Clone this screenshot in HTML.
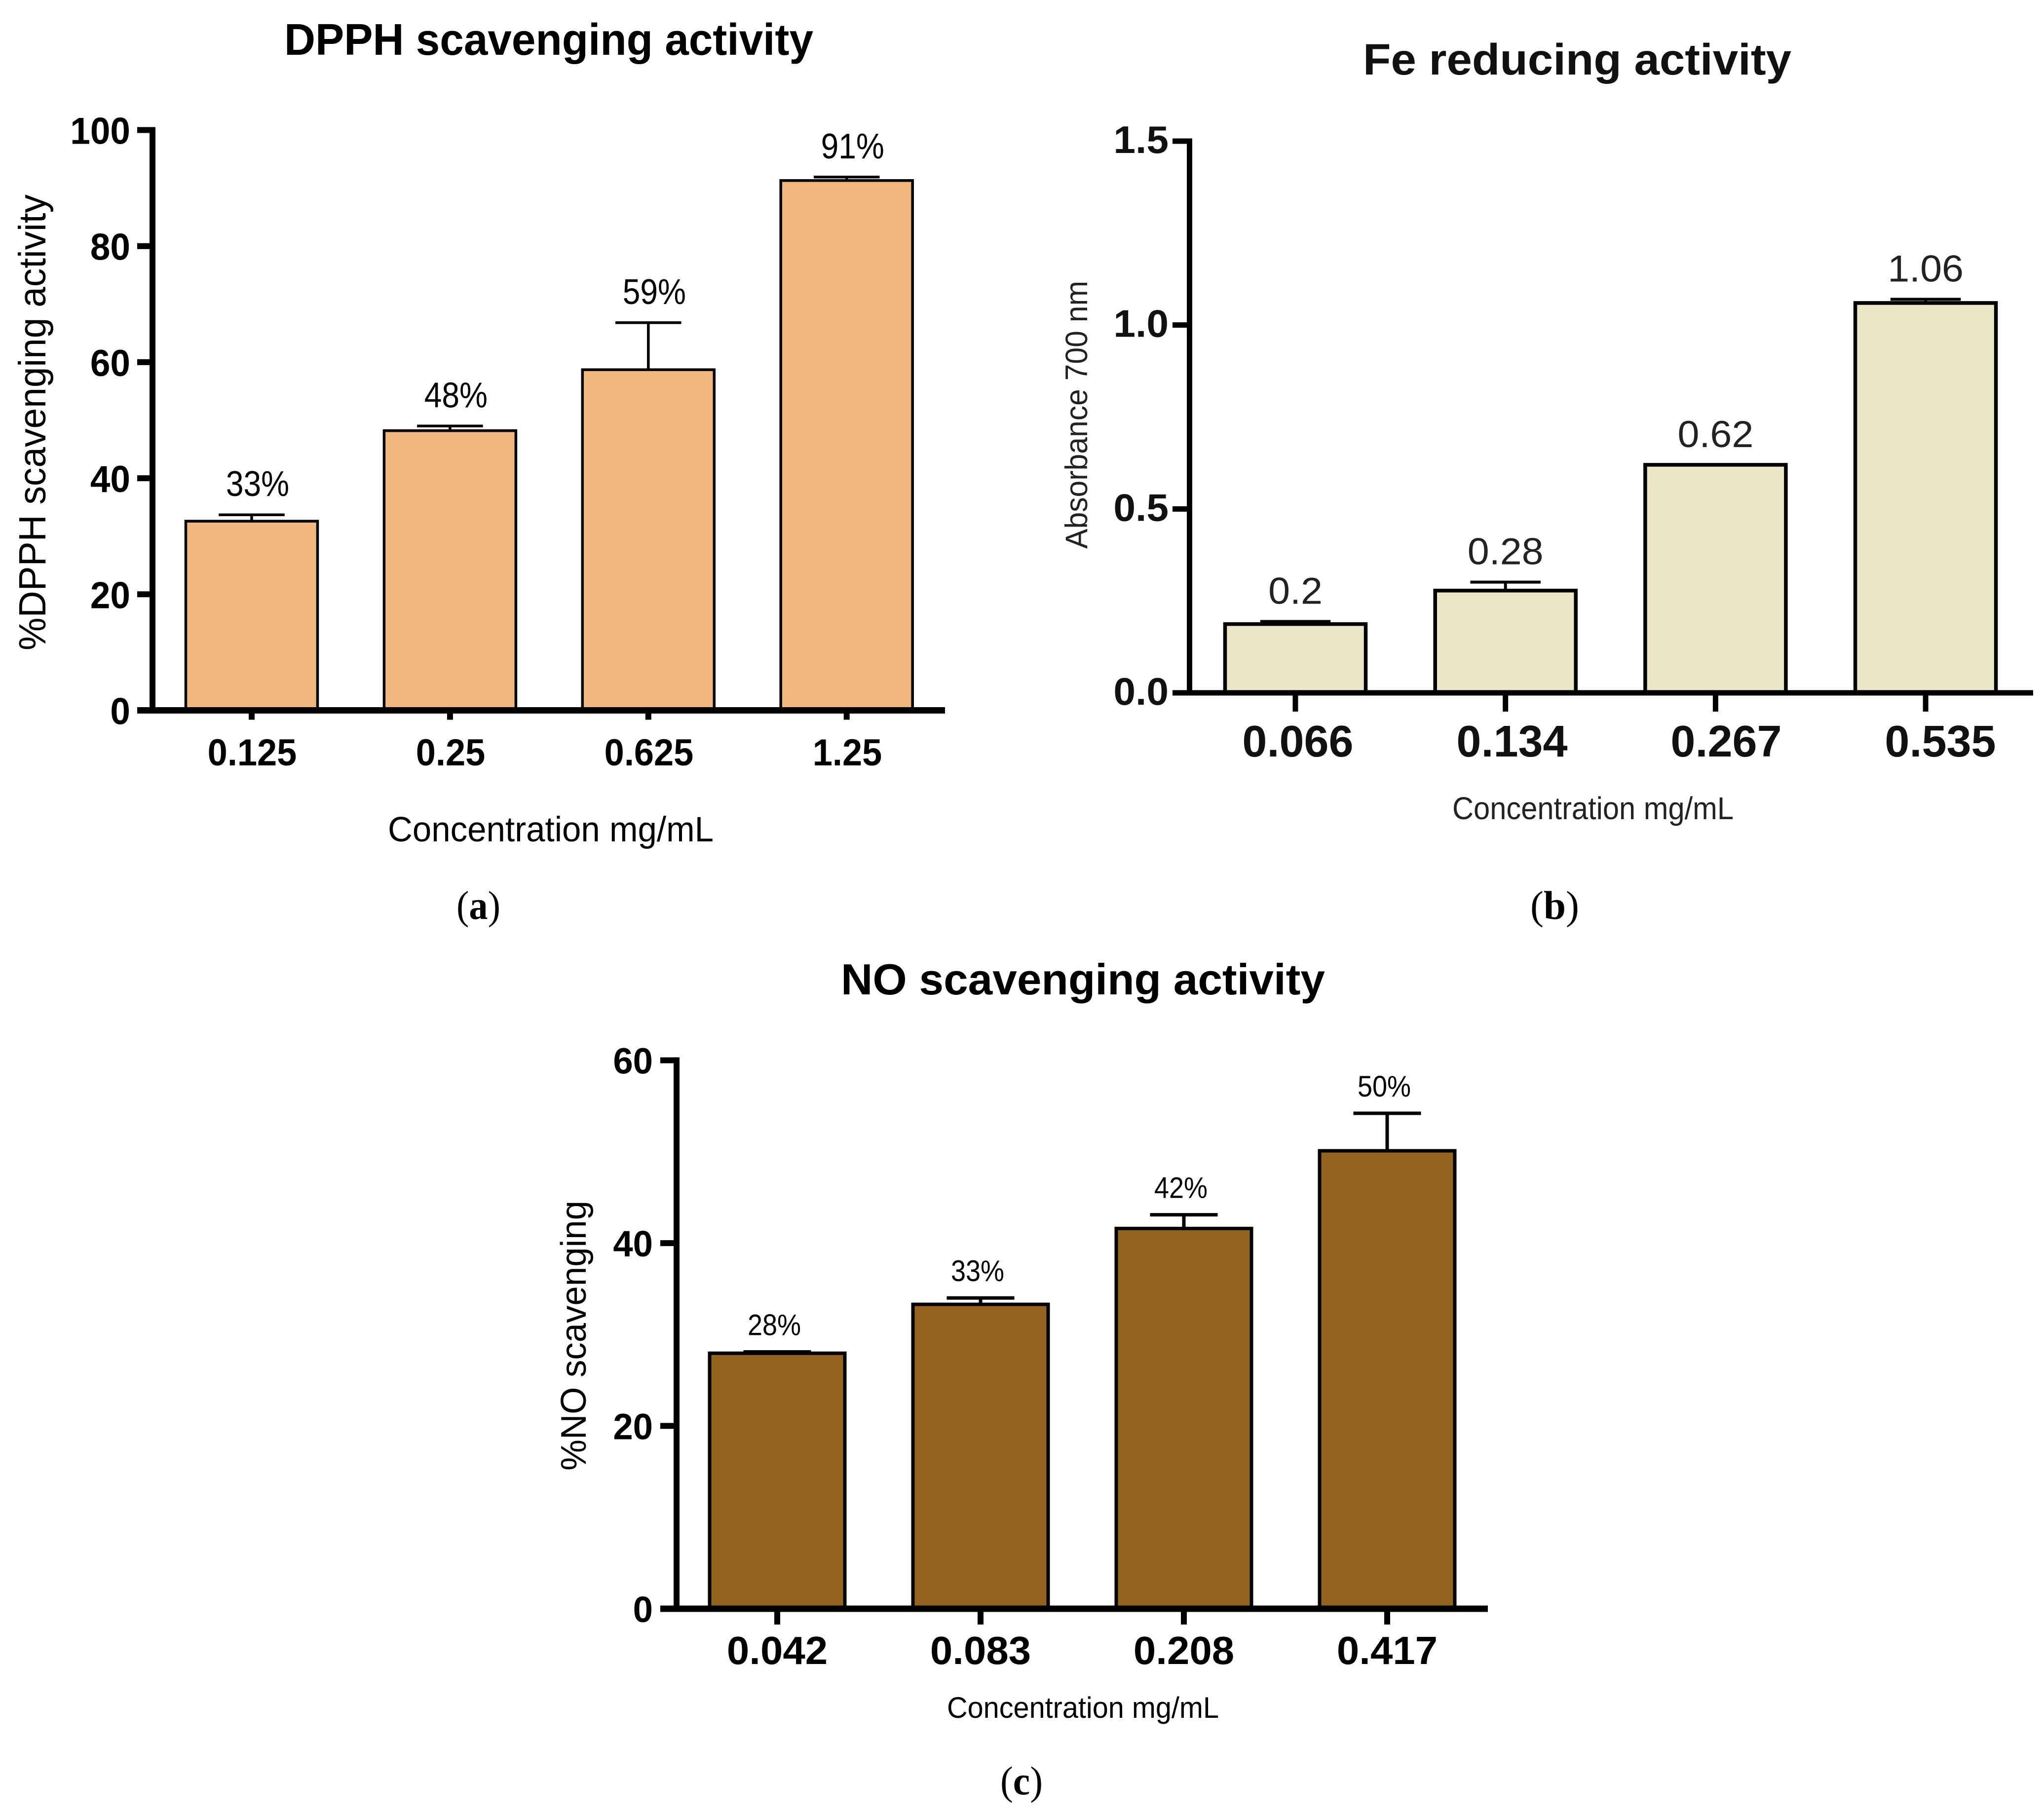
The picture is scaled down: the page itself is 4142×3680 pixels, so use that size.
<!DOCTYPE html>
<html lang="en">
<head>
<meta charset="utf-8">
<title>Antioxidant activity bar charts</title>
<style>
html,body{margin:0;padding:0;background:#fff;width:4142px;height:3680px;overflow:hidden}
svg{display:block}
text{font-family:"Liberation Sans",Arial,sans-serif;fill:#000}
.title{font-weight:700}
.cap{font-family:"Liberation Serif","Times New Roman",serif;font-size:82px}
.cap tspan{font-weight:700}
</style>
</head>
<body>
<svg id="figure" xmlns="http://www.w3.org/2000/svg" width="4142" height="3680" viewBox="0 0 4142 3680">
  <rect x="0" y="0" width="4142" height="3680" fill="#ffffff"/>

  <g id="panel-a">
    <text class="title" x="576" y="111" font-size="90" textLength="1072" lengthAdjust="spacingAndGlyphs">DPPH scavenging activity</text>
    <text x="92" y="1318" font-size="77" textLength="924" lengthAdjust="spacingAndGlyphs" transform="rotate(-90 92 1318)">%DPPH scavenging activity</text>
    <text x="786" y="1705" font-size="71" textLength="660" lengthAdjust="spacingAndGlyphs">Concentration mg/mL</text>
    <text class="cap" x="925" y="1862" textLength="89" lengthAdjust="spacingAndGlyphs">(<tspan>a</tspan>)</text>
  </g>

  <g id="panel-b">
    <text class="title" x="2762" y="151" font-size="89" textLength="868" lengthAdjust="spacingAndGlyphs" style="fill:#111">Fe reducing activity</text>
    <text x="2203" y="1112" font-size="63" style="fill:#222" textLength="543" lengthAdjust="spacingAndGlyphs" transform="rotate(-90 2203 1112)">Absorbance 700 nm</text>
    <text x="2943" y="1660" font-size="64" style="fill:#222" textLength="570" lengthAdjust="spacingAndGlyphs">Concentration mg/mL</text>
    <text class="cap" x="3101" y="1862" textLength="99" lengthAdjust="spacingAndGlyphs">(<tspan>b</tspan>)</text>
  </g>

  <g id="panel-c">
    <text class="title" x="1704" y="2015" font-size="88" textLength="981" lengthAdjust="spacingAndGlyphs">NO scavenging activity</text>
    <text x="1187" y="2980" font-size="72" textLength="547" lengthAdjust="spacingAndGlyphs" transform="rotate(-90 1187 2980)">%NO scavenging</text>
    <text x="1919" y="3481" font-size="60" textLength="551" lengthAdjust="spacingAndGlyphs">Concentration mg/mL</text>
    <text class="cap" x="2027" y="3636" textLength="86" lengthAdjust="spacingAndGlyphs">(<tspan>c</tspan>)</text>
  </g>
</svg>

<script>
// Panel (a) data
const dpphCategories = ['0.125', '0.25', '0.625', '1.25'];
const dpphValues = [32.6, 48.2, 58.7, 91.3];
const dpphErrorTops = [33.7, 49.0, 66.8, 91.9];
const dpphValueLabels = ['33%', '48%', '59%', '91%'];
const dpphTicks = ['0', '20', '40', '60', '80', '100'];

// Panel (b) data
const feCategories = ['0.066', '0.134', '0.267', '0.535'];
const feValues = [0.187, 0.278, 0.62, 1.06];
const feErrorTops = [0.194, 0.301, 0.62, 1.07];
const feValueLabels = ['0.2', '0.28', '0.62', '1.06'];
const feTicks = ['0.0', '0.5', '1.0', '1.5'];

// Panel (c) data
const noCategories = ['0.042', '0.083', '0.208', '0.417'];
const noValues = [27.95, 33.3, 41.6, 50.1];
const noErrorTops = [28.1, 34.0, 43.1, 54.2];
const noValueLabels = ['28%', '33%', '42%', '50%'];
const noTicks = ['0', '20', '40', '60'];

const SVG_NS = 'http://www.w3.org/2000/svg';

function line(parent, name, x1, y1, x2, y2, width, color) {
  const el = document.createElementNS(SVG_NS, 'line');
  el.setAttribute('x1', x1);
  el.setAttribute('y1', y1);
  el.setAttribute('x2', x2);
  el.setAttribute('y2', y2);
  el.setAttribute('stroke', color);
  el.setAttribute('stroke-width', width);
  
  
  parent.appendChild(el);
}

function label(parent, name, str, x, y, style) {
  const el = document.createElementNS(SVG_NS, 'text');
  el.textContent = str;
  el.setAttribute('transform', 'translate(' + x + ' ' + y + ') scale(' + style.stretch + ' 1)');
  el.setAttribute('font-size', style.size);
  el.setAttribute('font-weight', style.weight);
  el.setAttribute('text-anchor', style.anchor);
  el.setAttribute('style', 'fill:' + style.color);
  
  
  parent.appendChild(el);
}

function drawChart(c) {
  const root = document.getElementById(c.panel);
  const yScale = v => c.y0 + (c.yTop - c.y0) * (v / c.yMax);
  const xScale = i => c.x0 + c.step * i;

  c.categories.forEach((cat, i) => {
    const cx = xScale(i);
    const top = yScale(c.values[i]);
    const errTop = yScale(c.errors[i]);

    // error bar
    line(root, c.prefix + '-error-stem-' + cat, cx, top, cx, errTop, c.errWidth, '#000');
    line(root, c.prefix + '-error-cap-' + cat, cx - c.barWidth / 4, errTop, cx + c.barWidth / 4, errTop, c.errWidth, '#000');

    // bar
    const bar = document.createElementNS(SVG_NS, 'rect');
    bar.setAttribute('x', cx - c.barWidth / 2);
    bar.setAttribute('y', top);
    bar.setAttribute('width', c.barWidth);
    bar.setAttribute('height', c.y0 - top);
    bar.setAttribute('fill', c.fill);
    bar.setAttribute('stroke', '#000');
    bar.setAttribute('stroke-width', c.barStroke);
    
    
    root.appendChild(bar);

    // value label above the error bar
    label(root, c.prefix + '-value-label-' + cat, c.valueLabels[i], cx + c.valueDx, errTop - c.valueGap, c.valueStyle);

    // x tick and tick label
    line(root, c.prefix + '-x-tick-' + cat, cx, c.y0, cx, c.y0 + c.xTickLen, c.tickWidth, '#000');
    label(root, c.prefix + '-x-tick-label-' + cat, cat, c.xLabelX0 + c.xLabelStep * i, c.xLabelY, c.xLabelStyle);
  });

  // y ticks
  c.ticks.forEach(t => {
    const y = yScale(parseFloat(t));
    line(root, c.prefix + '-y-tick-' + t, c.axisStart, y, c.axisX, y, c.tickWidth, '#000');
    label(root, c.prefix + '-y-tick-label-' + t, t, c.yLabelX, y + c.yLabelDy, c.yLabelStyle);
  });

  // axes
  line(root, c.prefix + '-y-axis', c.axisX, c.yTop - c.tickWidth / 2, c.axisX, c.y0 + c.axisWidth / 2, c.spineWidth, '#000');
  line(root, c.prefix + '-x-axis', c.axisStart, c.y0, c.axisEnd, c.y0, c.axisWidth, '#000');
}

drawChart({
  panel: 'panel-a', prefix: 'dpph',
  categories: dpphCategories, values: dpphValues, errors: dpphErrorTops, valueLabels: dpphValueLabels, ticks: dpphTicks,
  yMax: 100, y0: 1439.5, yTop: 263.5, x0: 510, step: 401.9, barWidth: 267,
  axisX: 309, axisStart: 278, axisEnd: 1915,
  fill: '#F1B77E', barStroke: 5.5, errWidth: 5.5, spineWidth: 12, axisWidth: 13, tickWidth: 12, xTickLen: 19,
  valueDx: 12, valueGap: 38, xLabelX0: 511, xLabelStep: 402, xLabelY: 1551, yLabelX: 264, yLabelDy: 28,
  valueStyle: { size: 72, weight: 400, anchor: 'middle', stretch: 0.89, color: '#000' },
  xLabelStyle: { size: 76, weight: 700, anchor: 'middle', stretch: 0.95, color: '#000' },
  yLabelStyle: { size: 76, weight: 700, anchor: 'end', stretch: 0.96, color: '#000' }
});

drawChart({
  panel: 'panel-b', prefix: 'fe',
  categories: feCategories, values: feValues, errors: feErrorTops, valueLabels: feValueLabels, ticks: feTicks,
  yMax: 1.5, y0: 1404, yTop: 286, x0: 2625, step: 425.7, barWidth: 285,
  axisX: 2410.5, axisStart: 2376, axisEnd: 4120,
  fill: '#ECE6C9', barStroke: 7.5, errWidth: 6, spineWidth: 11, axisWidth: 11, tickWidth: 11, xTickLen: 38,
  valueDx: 0, valueGap: 36, xLabelX0: 2630, xLabelStep: 434, xLabelY: 1533, yLabelX: 2368, yLabelDy: 24,
  valueStyle: { size: 76, weight: 400, anchor: 'middle', stretch: 1.04, color: '#222' },
  xLabelStyle: { size: 90, weight: 700, anchor: 'middle', stretch: 1.0, color: '#111' },
  yLabelStyle: { size: 78, weight: 700, anchor: 'end', stretch: 1.03, color: '#111' }
});

drawChart({
  panel: 'panel-c', prefix: 'no',
  categories: noCategories, values: noValues, errors: noErrorTops, valueLabels: noValueLabels, ticks: noTicks,
  yMax: 60, y0: 3260, yTop: 2148.6, x0: 1575, step: 412, barWidth: 274,
  axisX: 1371, axisStart: 1338, axisEnd: 3015,
  fill: '#936320', barStroke: 7, errWidth: 7, spineWidth: 12, axisWidth: 13, tickWidth: 12, xTickLen: 32,
  valueDx: -6, valueGap: 34, xLabelX0: 1575, xLabelStep: 412, xLabelY: 3372, yLabelX: 1323, yLabelDy: 27,
  valueStyle: { size: 60, weight: 400, anchor: 'middle', stretch: 0.9, color: '#000' },
  xLabelStyle: { size: 80, weight: 700, anchor: 'middle', stretch: 1.02, color: '#000' },
  yLabelStyle: { size: 74, weight: 700, anchor: 'end', stretch: 0.98, color: '#000' }
});
</script>
</body>
</html>
